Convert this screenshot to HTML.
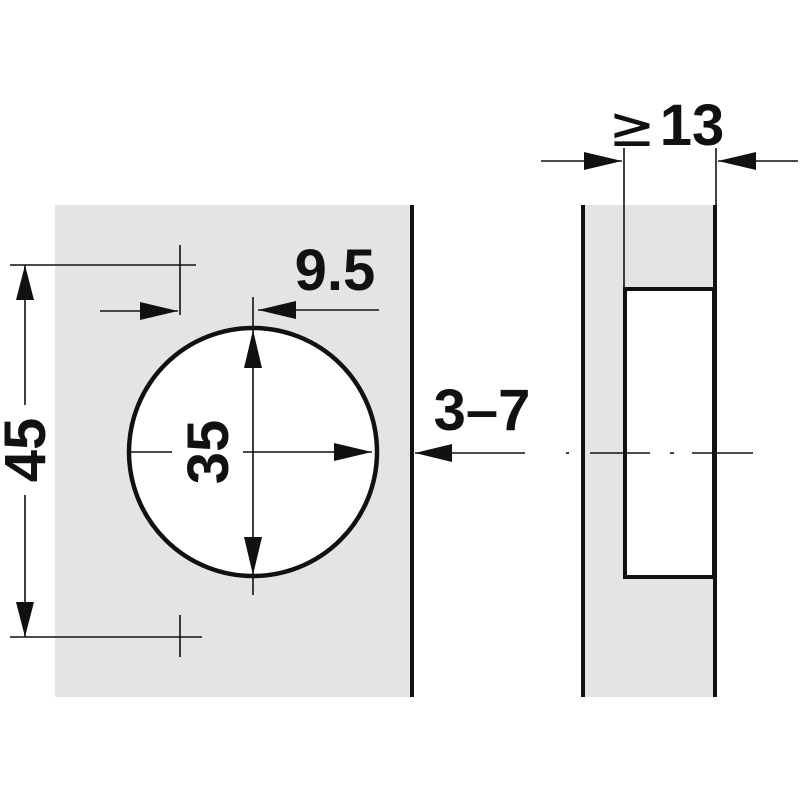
<!DOCTYPE html>
<html><head><style>body{margin:0;background:#fff}svg{display:block}</style></head><body>
<svg width="800" height="800" viewBox="0 0 800 800" xmlns="http://www.w3.org/2000/svg" font-family="Liberation Sans, sans-serif" font-weight="bold">
<rect x="55" y="205" width="357" height="492" fill="#e3e4e6"/>
<rect x="585" y="205" width="130" height="492" fill="#e3e4e6"/>
<line x1="412" y1="205" x2="412" y2="697" stroke="#111" stroke-width="4"/>
<circle cx="253" cy="452" r="124" fill="#fff" stroke="#111" stroke-width="4.5"/>
<rect x="625" y="289" width="89" height="288" fill="#fff" stroke="#111" stroke-width="4"/>
<line x1="583" y1="205" x2="583" y2="697" stroke="#111" stroke-width="4"/>
<line x1="715" y1="205" x2="715" y2="697" stroke="#111" stroke-width="4"/>
<g stroke="#111" stroke-width="1.6" fill="none">
<line x1="10" y1="265" x2="196" y2="265"/>
<line x1="10" y1="637" x2="202" y2="637"/>
<line x1="180" y1="245" x2="180" y2="315"/>
<line x1="180" y1="615" x2="180" y2="657"/>
<line x1="25" y1="265" x2="25" y2="405"/>
<line x1="25" y1="495" x2="25" y2="637"/>
<line x1="100" y1="311" x2="178" y2="311"/>
<line x1="258" y1="310" x2="379" y2="310"/>
<line x1="253" y1="297" x2="253" y2="595"/>
<line x1="130" y1="452" x2="172" y2="452"/>
<line x1="243" y1="452" x2="372" y2="452"/>
<line x1="415" y1="453" x2="525" y2="453"/>
<line x1="624" y1="148" x2="624" y2="290"/>
<line x1="716" y1="148" x2="716" y2="205"/>
<line x1="541" y1="161" x2="622" y2="161"/>
<line x1="718" y1="161" x2="798" y2="161"/>
<line x1="566" y1="453" x2="569" y2="453"/>
<line x1="590" y1="453" x2="650" y2="453"/>
<line x1="670" y1="453" x2="674" y2="453"/>
<line x1="692" y1="453" x2="753" y2="453"/>
</g>
<g fill="#111">
<polygon points="25,265 16,300 34,300"/>
<polygon points="25,637 16,602 34,602"/>
<polygon points="178,311 140,302 140,320"/>
<polygon points="258,310 296,301 296,319"/>
<polygon points="253,330 244,368 262,368"/>
<polygon points="253,575 244,537 262,537"/>
<polygon points="372,452 334,443 334,461"/>
<polygon points="415,453 452,444 452,462"/>
<polygon points="622,161 584,152 584,170"/>
<polygon points="718,161 756,152 756,170"/>
</g>
<text x="335" y="290" font-size="58" text-anchor="middle" fill="#111">9.5</text>
<text x="482" y="430" font-size="58" text-anchor="middle" fill="#111">3–7</text>
<text x="632" y="146" font-size="56" font-weight="normal" font-family="DejaVu Sans, sans-serif" text-anchor="middle" fill="#111">≥</text>
<text x="692" y="145" font-size="58" text-anchor="middle" fill="#111">13</text>
<text transform="translate(45,450) rotate(-90)" font-size="58" text-anchor="middle" fill="#111">45</text>
<text transform="translate(228,452) rotate(-90)" font-size="58" text-anchor="middle" fill="#111">35</text>
</svg>
</body></html>
